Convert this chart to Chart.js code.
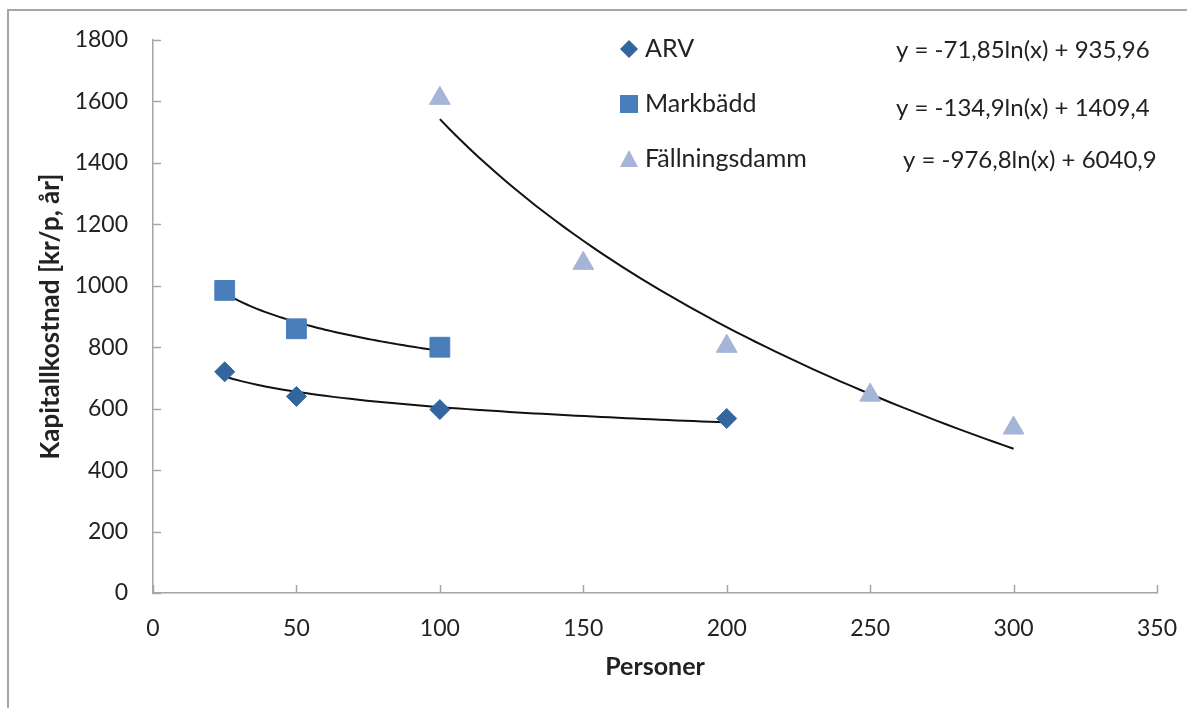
<!DOCTYPE html>
<html>
<head>
<meta charset="utf-8">
<script src="https://cdn.jsdelivr.net/npm/chart.js@4/dist/chart.umd.min.js"></script>
<style>
  html, body { margin: 0; padding: 0; background: #fff; }
</style>
</head>
<body>
<canvas id="myChart" width="1187" height="708"></canvas>
<script>
// data
var arvX = [25, 50, 100, 200];
var arvY = [720, 640, 597, 568];
var markX = [25, 50, 100];
var markY = [985, 860, 800];
var fallX = [100, 150, 200, 250, 300];
var fallY = [1610, 1073, 803, 644, 537];

var seriesNames = ["ARV", "Markbädd", "Fällningsdamm"];
var seriesColors = ["#33669e", "#4a7ebb", "#a5b5d7"];
// logarithmic trendlines y = a*ln(x) + b, as printed in the chart
var trendA = [-71.85, -134.9, -976.8];
var trendB = [935.96, 1409.4, 6040.9];
var trendText = ["y = -71,85ln(x) + 935,96", "y = -134,9ln(x) + 1409,4", "y = -976,8ln(x) + 6040,9"];

var xTicks = [0, 50, 100, 150, 200, 250, 300, 350];
var yTicks = [0, 200, 400, 600, 800, 1000, 1200, 1400, 1600, 1800];

var FONT = "Lato";

function pts(xs, ys) {
  return xs.map(function(x, i) { return {x: x, y: ys[i]}; });
}

// trendline from the series' first to last x
function trend(k, xs) {
  var out = [];
  var x0 = xs[0], x1 = xs[xs.length - 1];
  for (var i = 0; i <= 60; i++) {
    var x = x0 + (x1 - x0) * i / 60;
    out.push({x: x, y: trendA[k] * Math.log(x) + trendB[k]});
  }
  return out;
}

var lineSet = function(k, xs) {
  return {
    data: trend(k, xs), showLine: true, borderColor: "#111", borderWidth: 2,
    pointRadius: 0, tension: 0, order: 5
  };
};

// frame, inside tick marks, legend and equations
var decor = {
  id: "decor",
  beforeDraw: function(chart) {
    var ctx = chart.ctx;
    ctx.save();
    ctx.fillStyle = "#fff";
    ctx.fillRect(0, 0, chart.width, chart.height);
    ctx.strokeStyle = "#a6a6a6";
    ctx.lineWidth = 2;
    ctx.beginPath();
    ctx.moveTo(8, chart.height);
    ctx.lineTo(8, 10);
    ctx.lineTo(chart.width, 10);
    ctx.stroke();
    ctx.restore();
  },
  afterDraw: function(chart) {
    var ctx = chart.ctx;
    var xs = chart.scales.x, ys = chart.scales.y;
    ctx.save();
    ctx.strokeStyle = "#a6a6a6";
    ctx.lineWidth = 1.5;
    ctx.beginPath();
    xTicks.forEach(function(v) {
      var px = Math.round(xs.getPixelForValue(v)) + 0.5;
      ctx.moveTo(px, ys.bottom);
      ctx.lineTo(px, ys.bottom - 8);
    });
    yTicks.forEach(function(v) {
      var py = Math.round(ys.getPixelForValue(v)) + 0.5;
      ctx.moveTo(xs.left, py);
      ctx.lineTo(xs.left + 8, py);
    });
    ctx.stroke();

    var rowY = [49, 104, 159];
    var eqX = [896, 896, 903];
    var eqY = [50, 108, 160];
    var mx = 629;
    ctx.textBaseline = "middle";
    ctx.textAlign = "left";
    for (var k = 0; k < 3; k++) {
      var y = rowY[k];
      ctx.fillStyle = seriesColors[k];
      ctx.beginPath();
      if (k === 0) {
        ctx.moveTo(mx, y - 9); ctx.lineTo(mx + 9, y); ctx.lineTo(mx, y + 9); ctx.lineTo(mx - 9, y);
      } else if (k === 1) {
        ctx.rect(mx - 9, y - 9, 18, 18);
      } else {
        ctx.moveTo(mx, y - 9); ctx.lineTo(mx + 9, y + 8); ctx.lineTo(mx - 9, y + 8);
      }
      ctx.closePath();
      ctx.fill();
      ctx.fillStyle = "#222";
      ctx.font = "25px " + FONT;
      ctx.fillText(seriesNames[k], 645, y);
      ctx.font = "24px " + FONT;
      ctx.fillText(trendText[k], eqX[k], eqY[k]);
    }
    ctx.restore();
  }
};

var ctx = document.getElementById("myChart").getContext("2d");
var chart = new Chart(ctx, {
  type: "scatter",
  data: {
    datasets: [
      {label: seriesNames[0], data: pts(arvX, arvY), pointStyle: "rectRot", pointRadius: 10,
       backgroundColor: seriesColors[0], borderColor: seriesColors[0], borderWidth: 1, order: 1},
      {label: seriesNames[1], data: pts(markX, markY), pointStyle: "rect", pointRadius: 14,
       backgroundColor: seriesColors[1], borderColor: seriesColors[1], borderWidth: 1, order: 1},
      {label: seriesNames[2], data: pts(fallX, fallY), pointStyle: "triangle", pointRadius: 12,
       backgroundColor: seriesColors[2], borderColor: seriesColors[2], borderWidth: 1, order: 1},
      lineSet(0, arvX),
      lineSet(1, markX),
      lineSet(2, fallX)
    ]
  },
  options: {
    responsive: false,
    animation: false,
    layout: {padding: {left: 0, top: 40, right: 30, bottom: 0}},
    plugins: {legend: {display: false}, tooltip: {enabled: false}},
    scales: {
      x: {
        type: "linear", min: 0, max: 350,
        afterFit: function(s) { s.height = 115; s.paddingLeft = 0; s.paddingRight = 0; },
        afterBuildTicks: function(s) { s.ticks = xTicks.map(function(v) { return {value: v}; }); },
        grid: {drawOnChartArea: false, drawTicks: false},
        border: {display: true, color: "#a6a6a6", width: 1.5},
        ticks: {padding: 22, color: "#222", font: {family: FONT, size: 23},
                callback: function(v) { return String(v); }},
        title: {display: true, text: "Personer", color: "#222", padding: {top: 0, bottom: 26},
                font: {family: FONT, size: 25, weight: "bold"}}
      },
      y: {
        type: "linear", min: 0, max: 1800,
        afterFit: function(s) { s.width = 153; },
        afterBuildTicks: function(s) { s.ticks = yTicks.map(function(v) { return {value: v}; }); },
        grid: {drawOnChartArea: false, drawTicks: false},
        border: {display: true, color: "#a6a6a6", width: 1.5},
        ticks: {padding: 25, color: "#222", font: {family: FONT, size: 23},
                callback: function(v) { return String(v); }},
        title: {display: true, text: "Kapitallkostnad [kr/p, år]", color: "#222", padding: {top: 35, bottom: 0},
                font: {family: FONT, size: 26, weight: "bold"}}
      }
    }
  },
  plugins: [decor]
});
</script>
</body>
</html>
